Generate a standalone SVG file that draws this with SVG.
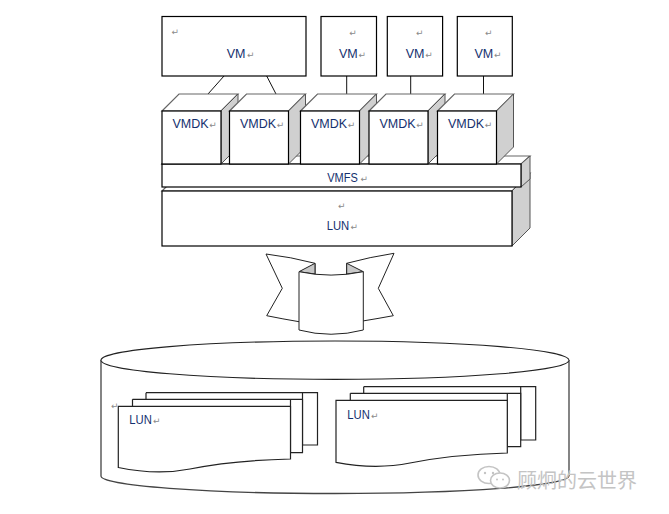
<svg xmlns="http://www.w3.org/2000/svg" width="669" height="514" viewBox="0 0 669 514">
<style>
.lbl{font-family:"Liberation Sans",Arial,sans-serif;font-size:12.5px;fill:#14306e}
.pm{font-family:"DejaVu Sans",sans-serif;font-size:9px;fill:#8a8a8a}
.box{fill:#fff;stroke:#000;stroke-width:1.2}
.top{fill:#fff;stroke:#666;stroke-width:1.2}
.side{fill:#d0d0d0;stroke:#555;stroke-width:1}
.ln{stroke:#111;stroke-width:1;fill:none}
.rib{fill:#fff;stroke:#222;stroke-width:1}
.fold{fill:#c8c8c8;stroke:#222;stroke-width:1}
.cyl{fill:#fff;stroke:#444;stroke-width:1.3}
.doc{fill:#fff;stroke:#222;stroke-width:1.2}
.wm{font-family:"Noto Sans CJK SC",sans-serif;font-size:20px;fill:#c4c4c4}
.wmi{fill:#fff;stroke:#c4c4c4;stroke-width:1.6}
</style>
<rect width="669" height="514" fill="#fff"/>

<g id="connectors">
<line class="ln" x1="224" y1="76" x2="208" y2="94"/>
<line class="ln" x1="266.7" y1="76" x2="276" y2="94"/>
<line class="ln" x1="346.7" y1="76" x2="346.7" y2="94"/>
<line class="ln" x1="410.7" y1="76" x2="410.7" y2="94"/>
<line class="ln" x1="483.5" y1="76" x2="483.5" y2="94"/>
</g>

<g id="vm1">
<rect class="box" x="162" y="16.5" width="144" height="59.5"/>
<text class="pm" x="171.5" y="35">↵</text>
<text class="lbl" x="226.7" y="57.5">VM</text><text class="pm" x="247" y="57.5">↵</text>
</g>
<g id="vm2">
<rect class="box" x="321" y="16.5" width="55.5" height="59.5"/>
<text class="pm" x="349.3" y="36">↵</text>
<text class="lbl" x="339" y="57.5">VM</text><text class="pm" x="358.5" y="57.5">↵</text>
</g>
<g id="vm3">
<rect class="box" x="387.3" y="16.5" width="55.3" height="59.5"/>
<text class="pm" x="416" y="36">↵</text>
<text class="lbl" x="405.7" y="57.5">VM</text><text class="pm" x="425.2" y="57.5">↵</text>
</g>
<g id="vm4">
<rect class="box" x="457.3" y="16.5" width="55" height="59.5"/>
<text class="pm" x="485" y="36">↵</text>
<text class="lbl" x="474.5" y="57.5">VM</text><text class="pm" x="494" y="57.5">↵</text>
</g>

<g id="lun-slab">
<polygon class="top" points="162,191 180,173 530,173 512,191"/>
<polygon class="side" points="512,191 530,173 530,228 512,246"/>
<rect class="box" x="162" y="191" width="350" height="55"/>
<text class="pm" x="338" y="208.5">↵</text>
<text class="lbl" x="326.7" y="229.5" textLength="22.6" lengthAdjust="spacingAndGlyphs">LUN</text><text class="pm" x="350.5" y="229.5">↵</text>
</g>

<g id="vmfs">
<polygon class="top" points="162,164 171,156 530,156 521,164"/>
<polygon class="side" points="521,164 530,156 530,179 521,187"/>
<rect class="box" x="162" y="164" width="359" height="23"/>
<text class="lbl" x="327.2" y="181.5" textLength="30.6" lengthAdjust="spacingAndGlyphs">VMFS</text><text class="pm" x="360.5" y="181.5">↵</text>
</g>

<g id="vmdk1">
<polygon class="top" points="162,111 179,94 238,94 221,111"/>
<polygon class="side" points="221,111 238,94 238,147 221,164"/>
<rect class="box" x="162" y="111" width="59" height="53"/>
<text class="lbl" x="172.5" y="128">VMDK</text><text class="pm" x="209.3" y="128">↵</text>
</g>
<g id="vmdk2">
<polygon class="top" points="229.5,111 246.5,94 305.5,94 288.5,111"/>
<polygon class="side" points="288.5,111 305.5,94 305.5,147 288.5,164"/>
<rect class="box" x="229.5" y="111" width="59" height="53"/>
<text class="lbl" x="240" y="128">VMDK</text><text class="pm" x="276.8" y="128">↵</text>
</g>
<g id="vmdk3">
<polygon class="top" points="300.5,111 317.5,94 376.5,94 359.5,111"/>
<polygon class="side" points="359.5,111 376.5,94 376.5,147 359.5,164"/>
<rect class="box" x="300.5" y="111" width="59" height="53"/>
<text class="lbl" x="311" y="128">VMDK</text><text class="pm" x="347.8" y="128">↵</text>
</g>
<g id="vmdk4">
<polygon class="top" points="369,111 386,94 445,94 428,111"/>
<polygon class="side" points="428,111 445,94 445,147 428,164"/>
<rect class="box" x="369" y="111" width="59" height="53"/>
<text class="lbl" x="379.5" y="128">VMDK</text><text class="pm" x="416.3" y="128">↵</text>
</g>
<g id="vmdk5">
<polygon class="top" points="437.5,111 454.5,94 513.5,94 496.5,111"/>
<polygon class="side" points="496.5,111 513.5,94 513.5,147 496.5,164"/>
<rect class="box" x="437.5" y="111" width="59" height="53"/>
<text class="lbl" x="448" y="128">VMDK</text><text class="pm" x="484.8" y="128">↵</text>
</g>

<g id="ribbon">
<path class="rib" d="M266,254 Q291,257 315,263.3 L315,305 L299,321.7 Q283,319 266.7,315.7 L282.3,288.3 Z"/>
<path class="rib" d="M394,253.3 Q370,257 346.7,263.3 L346.7,305 L362.7,321 Q378,318.5 393.3,315.7 L378.3,288.3 Z"/>
<polygon class="fold" points="299,271.7 315,263.3 315,274"/>
<polygon class="fold" points="363.3,271.7 346.7,263.3 346.7,274"/>
<path class="rib" d="M299,271.7 Q331,278.5 363.3,271.7 L363.3,330 Q331,338.5 299,330 Z"/>
</g>

<g id="storage">
<path class="cyl" d="M101,360 L101,476 A234,17.5 0 0 0 569,476 L569,360"/>
<ellipse cx="335" cy="360.2" rx="234" ry="19.2" fill="#fff" stroke="#222" stroke-width="1.1"/>
</g>

<g id="lun-stack-left">
<path class="doc" d="M146,392.7 L317.5,392.7 L317.5,445 L302.5,445 L302.5,392.7"/>
<path class="doc" d="M132.5,399.3 L302.5,399.3 L302.5,452.7 L290.5,452.7 L290.5,399.3"/>
<path class="doc" d="M118.3,406.3 L290.5,406.3 L290.5,459 C250,460 215,464 190,469 C165,474 140,472 118.3,467.5 Z"/>
<path class="doc" d="M146,392.7 L146,399.3 M132.5,399.3 L132.5,406.3" fill="none"/>
<text class="pm" x="111" y="408.5">↵</text>
<text class="lbl" x="129.3" y="424" textLength="22.5" lengthAdjust="spacingAndGlyphs">LUN</text><text class="pm" x="153" y="424">↵</text>
</g>

<g id="lun-stack-right">
<path class="doc" d="M363.7,386.7 L535.7,386.7 L535.7,440 L520.7,440 L520.7,386.7"/>
<path class="doc" d="M350.3,393.3 L520.7,393.3 L520.7,446.7 L507.3,446.7 L507.3,393.3"/>
<path class="doc" d="M336,400.3 L507.3,400.3 L507.3,453 C470,454 435,458 410,463 C385,468 360,467 336,462.3 Z"/>
<path class="doc" d="M363.7,386.7 L363.7,393.3 M350.3,393.3 L350.3,400.3" fill="none"/>
<text class="lbl" x="347.3" y="419" textLength="22.5" lengthAdjust="spacingAndGlyphs">LUN</text><text class="pm" x="371" y="419">↵</text>
</g>

<g id="watermark">
<ellipse class="wmi" cx="489" cy="475" rx="11" ry="8.5"/>
<ellipse class="wmi" cx="500" cy="480.5" rx="9.5" ry="7.5"/>
<circle cx="485" cy="473" r="1.2" fill="#c4c4c4"/>
<circle cx="493" cy="473" r="1.2" fill="#c4c4c4"/>
<circle cx="497" cy="479.5" r="1" fill="#c4c4c4"/>
<circle cx="503" cy="479.5" r="1" fill="#c4c4c4"/>
<text class="wm" x="517" y="488">顾炯的云世界</text>
</g>
</svg>
